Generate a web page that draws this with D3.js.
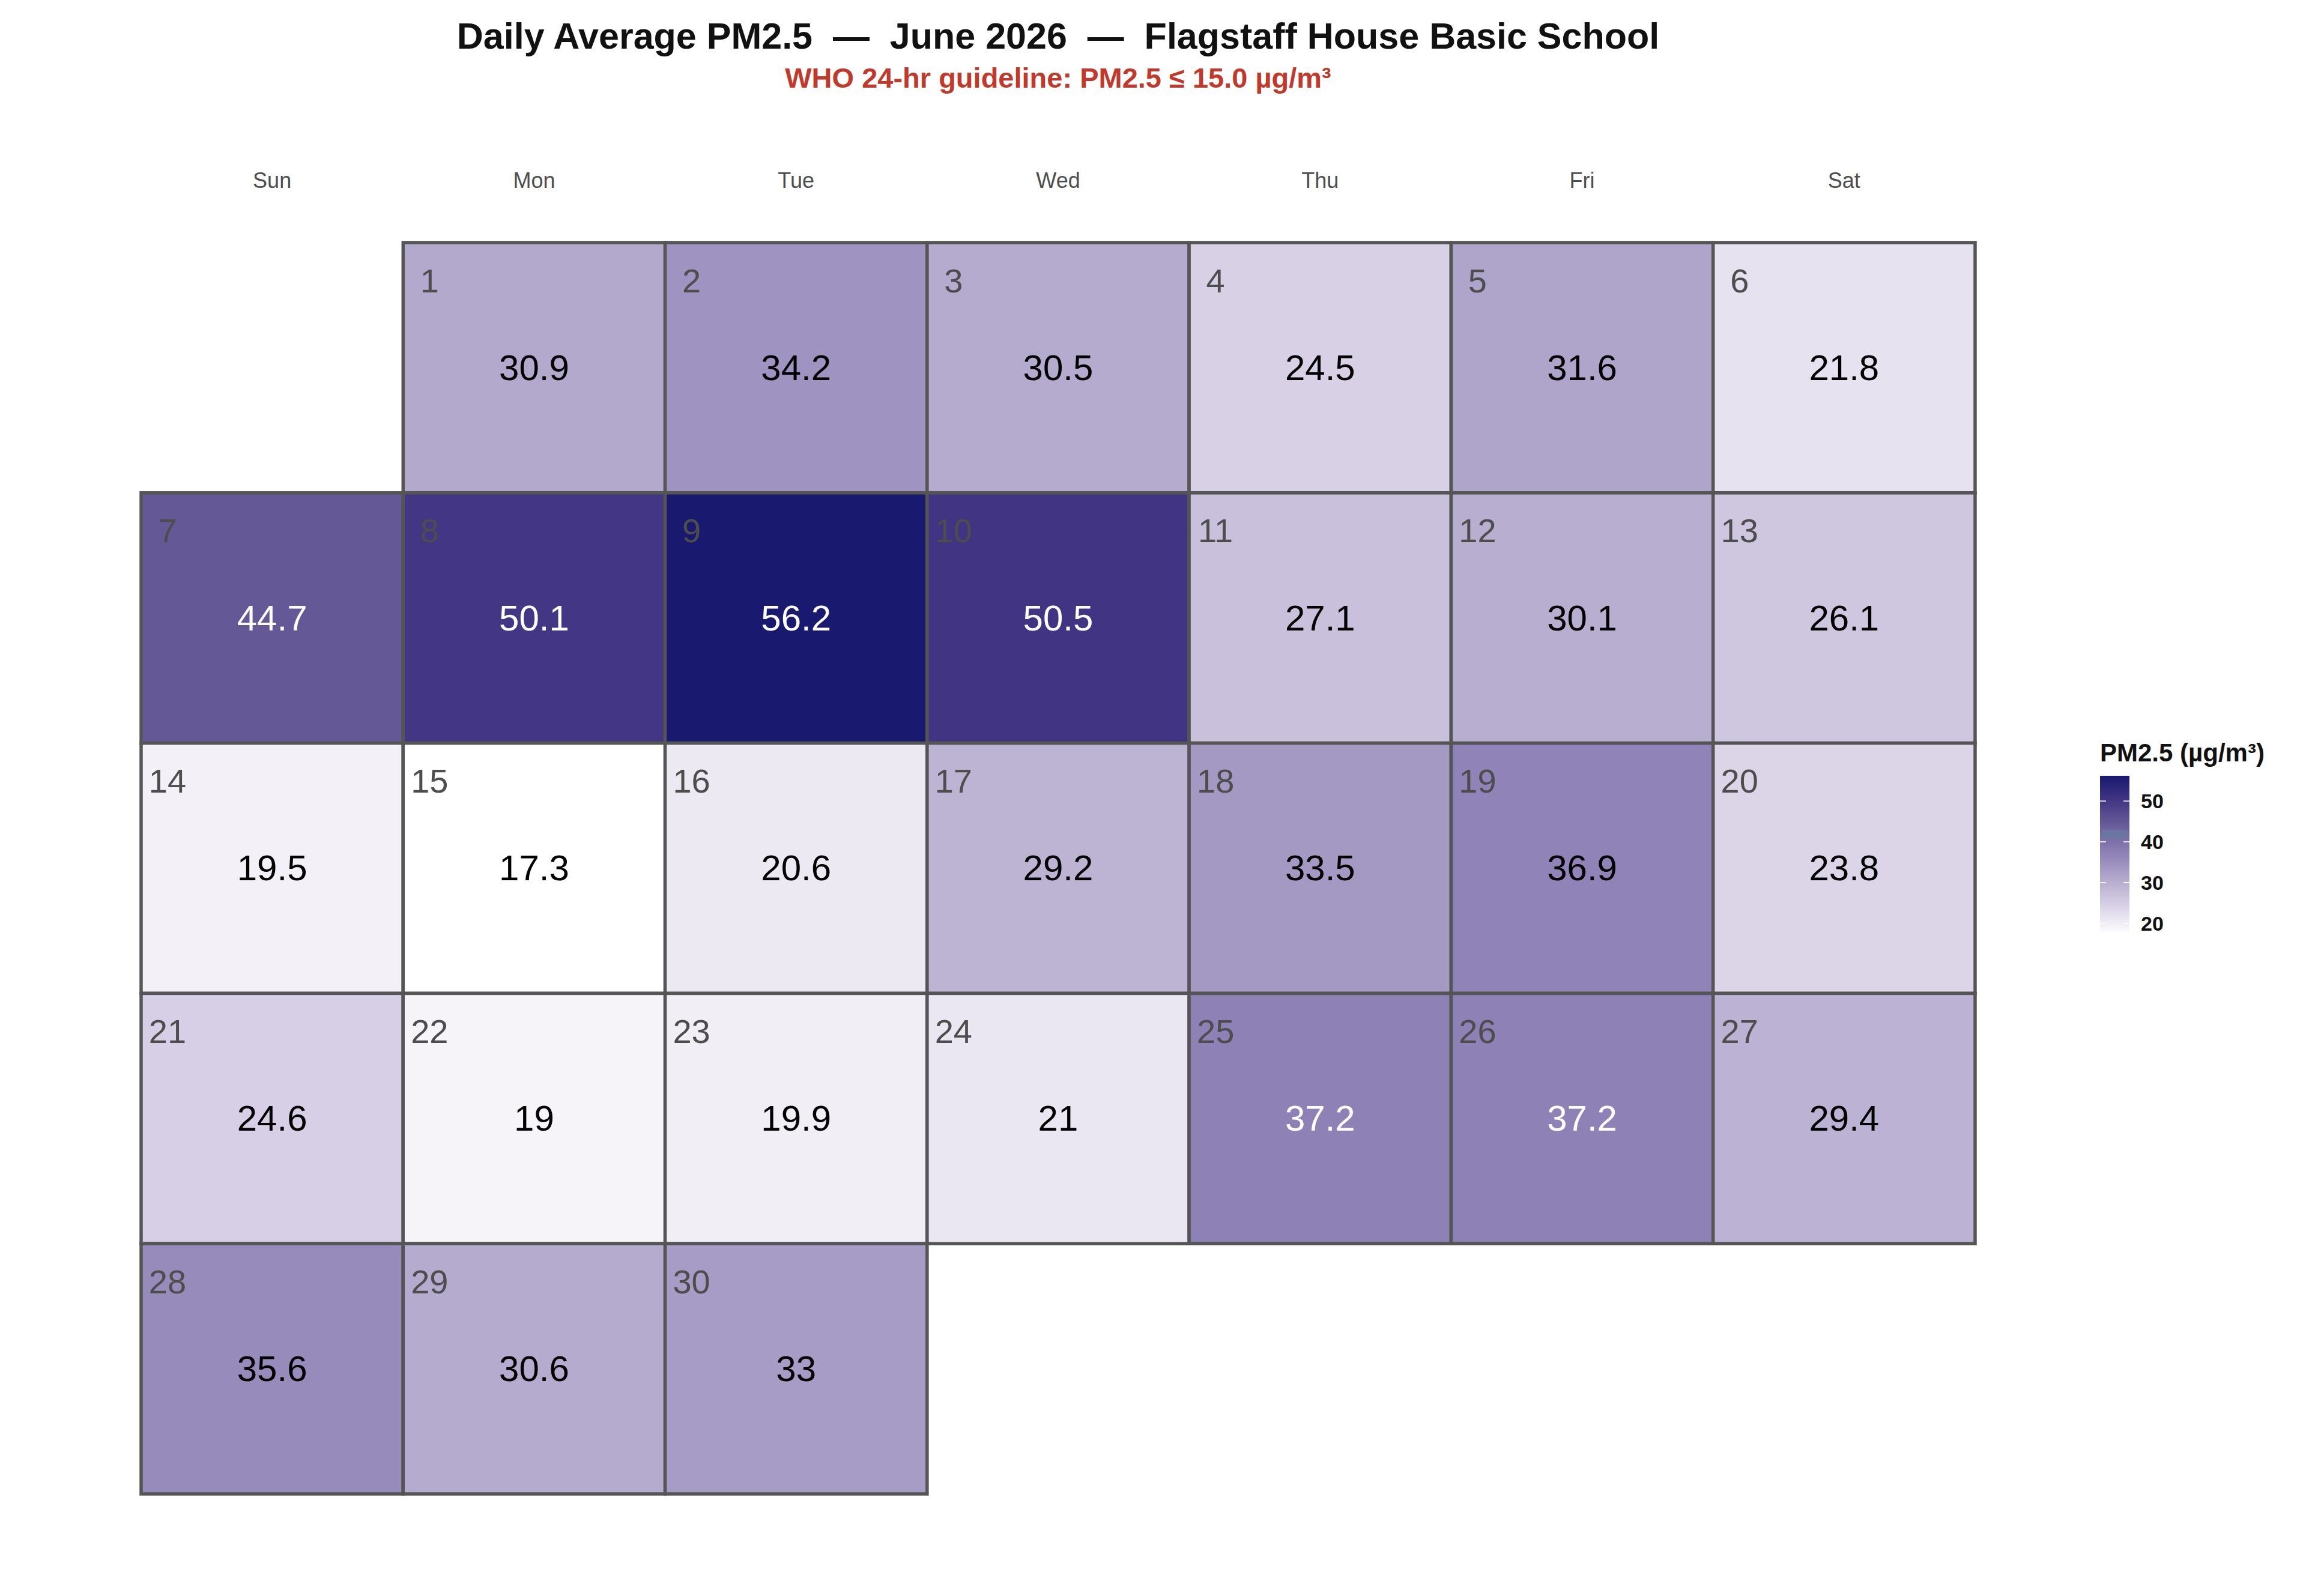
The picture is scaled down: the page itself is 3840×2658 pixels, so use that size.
<!DOCTYPE html>
<html>
<head>
<meta charset="utf-8">
<script src="https://cdn.jsdelivr.net/npm/d3@7"></script>
<style>
  body { margin: 0; background: white; }
  text { font-family: "Liberation Sans", Arial, sans-serif; white-space: pre; }
</style>
</head>
<body>
<svg id="chart"></svg>
<script>
var width = 3840,
    height = 2658;

// data
var weekdays = ['Sun', 'Mon', 'Tue', 'Wed', 'Thu', 'Fri', 'Sat'];
var days = d3.range(1, 31);
var pm25 = [30.9, 34.2, 30.5, 24.5, 31.6, 21.8,
            44.7, 50.1, 56.2, 50.5, 27.1, 30.1, 26.1,
            19.5, 17.3, 20.6, 29.2, 33.5, 36.9, 23.8,
            24.6, 19.0, 19.9, 21.0, 37.2, 37.2, 29.4,
            35.6, 30.6, 33.0];
var legendTicks = [20, 30, 40, 50];
var firstWeekday = 1; // June 1, 2026 is a Monday

var cells = days.map(function (d, i) {
    var slot = i + firstWeekday;
    return { day: d, value: pm25[i], wday: weekdays[slot % 7], week: Math.floor(slot / 7) };
});

var svg = d3.select('#chart')
    .attr('width', width)
    .attr('height', height);

var x = d3.scaleBand().domain(weekdays).range([235, 3289]);
var y = d3.scaleBand().domain(d3.range(5)).range([404, 2488]);

var vmin = d3.min(pm25), vmax = d3.max(pm25);
var color = d3.scaleLinear()
    .domain([vmin, 24.5, 30.9, 36.9, 44.7, 50.1, vmax])
    .range(['#ffffff', '#d8d0e5', '#b3a9cd', '#8f83b7', '#655897', '#433684', '#191970'])
    .interpolate(d3.interpolateRgb);

// titles
svg.append('text')
    .attr('x', 1762).attr('y', 81)
    .attr('text-anchor', 'middle')
    .attr('font-size', 61).attr('font-weight', 'bold')
    .attr('fill', '#111')
    .text('Daily Average PM2.5  \u2014  June 2026  \u2014  Flagstaff House Basic School');

svg.append('text')
    .attr('x', 1762).attr('y', 146)
    .attr('text-anchor', 'middle')
    .attr('font-size', 47).attr('font-weight', 'bold')
    .attr('fill', '#c0392b')
    .text('WHO 24-hr guideline: PM2.5 \u2264 15.0 \u00b5g/m\u00b3');

// weekday header
svg.selectAll('text.wday')
    .data(weekdays)
    .enter().append('text')
    .attr('class', 'wday')
    .attr('x', function (d) { return x(d) + x.bandwidth() / 2; })
    .attr('y', 313)
    .attr('text-anchor', 'middle')
    .attr('font-size', 36)
    .attr('fill', '#4d4d4d')
    .text(function (d) { return d; });

var cell = svg.selectAll('g.cell')
    .data(cells)
    .enter().append('g')
    .attr('class', 'cell')
    .attr('transform', function (d) { return 'translate(' + x(d.wday) + ',' + y(d.week) + ')'; });

cell.append('rect')
    .attr('width', x.bandwidth())
    .attr('height', y.bandwidth())
    .attr('fill', function (d) { return color(d.value); })
    .attr('stroke', '#555555')
    .attr('stroke-width', 5.5);

cell.append('text')
    .attr('x', 44)
    .attr('y', 63)
    .attr('text-anchor', 'middle')
    .attr('dominant-baseline', 'central')
    .attr('font-size', 56)
    .attr('fill', '#4d4d4d')
    .text(function (d) { return d.day; });

cell.append('text')
    .attr('x', x.bandwidth() / 2)
    .attr('y', y.bandwidth() / 2)
    .attr('text-anchor', 'middle')
    .attr('dominant-baseline', 'central')
    .attr('font-size', 60)
    .attr('fill', function (d) { return d.value > 37 ? 'white' : 'black'; })
    .text(function (d) { return d3.format('~')(d.value); });

// colour bar legend
var legY = d3.scaleLinear().domain([vmin, vmax]).range([1556, 1292]);
var legX = 3497, legW = 49;

var grad = svg.append('defs').append('linearGradient')
    .attr('id', 'pmgrad')
    .attr('x1', 0).attr('x2', 0).attr('y1', 1).attr('y2', 0);
d3.range(0, 1.0001, 0.05).forEach(function (t) {
    grad.append('stop')
        .attr('offset', t)
        .attr('stop-color', color(vmin + t * (vmax - vmin)));
});

svg.append('text')
    .attr('x', legX).attr('y', 1268)
    .attr('font-size', 42).attr('font-weight', 'bold')
    .attr('fill', '#111')
    .text('PM2.5 (\u00b5g/m\u00b3)');

svg.append('rect')
    .attr('x', legX).attr('y', legY(vmax))
    .attr('width', legW).attr('height', legY(vmin) - legY(vmax))
    .attr('fill', 'url(#pmgrad)');

// slate band seen in the reference colour bar
svg.append('rect')
    .attr('x', legX + 3).attr('y', legY(42.9))
    .attr('width', legW - 6).attr('height', legY(40.8) - legY(42.9))
    .attr('fill', '#6a78a2')
    .attr('opacity', 0.85);

legendTicks.forEach(function (t) {
    [legX, legX + legW - 10].forEach(function (x0) {
        svg.append('line')
            .attr('x1', x0).attr('x2', x0 + 10)
            .attr('y1', legY(t)).attr('y2', legY(t))
            .attr('stroke', 'white').attr('stroke-width', 1.5);
    });
    svg.append('text')
        .attr('x', 3565).attr('y', legY(t))
        .attr('dominant-baseline', 'central')
        .attr('font-size', 34).attr('font-weight', 'bold')
        .attr('fill', '#111')
        .text(t);
});
</script>
</body>
</html>
